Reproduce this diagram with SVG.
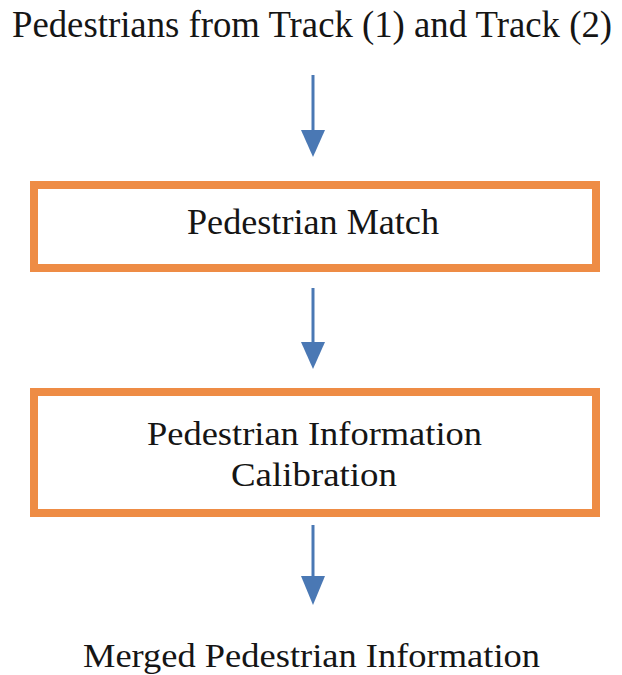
<svg xmlns="http://www.w3.org/2000/svg" width="622" height="675" viewBox="0 0 622 675">
  <style>
    .label { font-family: "Liberation Serif", "Times New Roman", serif; fill: #151515; text-anchor: middle; }
    .box { fill: #ffffff; stroke: #ee8c45; stroke-width: 8; }
    .conn { stroke: #4a78b4; stroke-width: 3; fill: none; }
    .head { fill: #4a78b4; }
  </style>
  <rect width="622" height="675" fill="#ffffff"/>

  <g id="source">
    <text class="label" x="312" y="37" font-size="37" textLength="600" lengthAdjust="spacingAndGlyphs">Pedestrians from Track (1) and Track (2)</text>
  </g>

  <g id="match">
    <rect class="box" x="34" y="185" width="562" height="83"/>
    <text class="label" x="313" y="234" font-size="35" textLength="252" lengthAdjust="spacingAndGlyphs">Pedestrian Match</text>
  </g>

  <g id="calibration">
    <rect class="box" x="34" y="392" width="562" height="121"/>
    <text class="label" x="314.5" y="445" font-size="34" textLength="335" lengthAdjust="spacingAndGlyphs">Pedestrian Information</text>
    <text class="label" x="314" y="486" font-size="34" textLength="166" lengthAdjust="spacingAndGlyphs">Calibration</text>
  </g>

  <g id="result">
    <text class="label" x="311.5" y="667" font-size="33" textLength="457" lengthAdjust="spacingAndGlyphs">Merged Pedestrian Information</text>
  </g>

  <g id="connectors">
    <line class="conn" x1="313" y1="75" x2="313" y2="132"/>
    <polygon class="head" points="301,130 325,130 313,157"/>
    <line class="conn" x1="313" y1="288" x2="313" y2="344"/>
    <polygon class="head" points="301,342 325,342 313,369"/>
    <line class="conn" x1="313" y1="525" x2="313" y2="578"/>
    <polygon class="head" points="301,576 325,576 313,605"/>
  </g>
</svg>
